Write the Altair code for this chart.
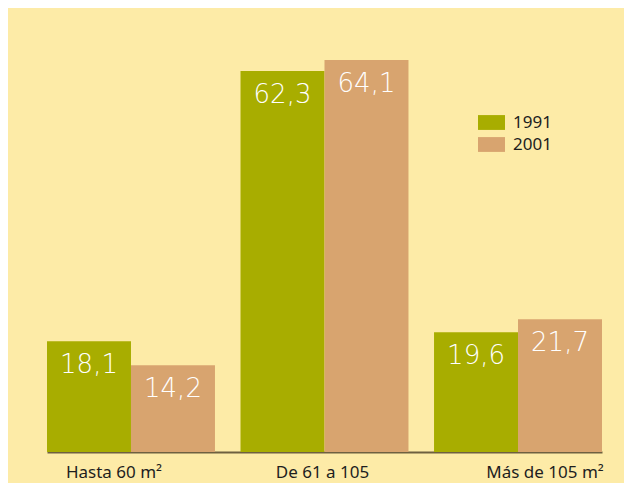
import altair as alt
import pandas as pd

categories = ["Hasta 60 m²", "De 61 a 105", "Más de 105 m²"]
years = ["1991", "2001"]
values_1991 = [18.1, 62.3, 19.6]
values_2001 = [14.2, 64.1, 21.7]
colors = ["#a8ad00", "#d8a46f"]

rows = []
for cat, v in zip(categories, values_1991):
    rows.append({"cat": cat, "year": "1991", "value": v})
for cat, v in zip(categories, values_2001):
    rows.append({"cat": cat, "year": "2001", "value": v})
df = pd.DataFrame(rows)
df["label"] = df["value"].map(lambda v: f"{v:.1f}".replace(".", ","))

label_offset = alt.expr(
    "datum.value == 'Hasta 60 m²' ? -17 : (datum.value == 'Más de 105 m²' ? 27 : -2)"
)

base = alt.Chart(df).encode(
    x=alt.X(
        "cat:N",
        sort=categories,
        scale=alt.Scale(paddingInner=0.132, paddingOuter=0),
        axis=alt.Axis(
            title=None,
            ticks=False,
            labelAngle=0,
            domainColor="#6e6040",
            domainWidth=2,
            labelFont="Noto Sans",
            labelFontSize=17,
            labelColor="#1e1e1e",
            labelPadding=12,
            labelOffset=label_offset,
        ),
    ),
    xOffset=alt.XOffset("year:N", sort=years, scale=alt.Scale(paddingInner=0, paddingOuter=0)),
    y=alt.Y("value:Q", scale=alt.Scale(domain=[0, 70]), axis=None),
)

bars = base.mark_bar().encode(
    color=alt.Color(
        "year:N",
        scale=alt.Scale(domain=years, range=colors),
        legend=alt.Legend(
            title=None,
            orient="none",
            legendX=436,
            legendY=90,
            symbolType="M-2,-1.1L2,-1.1L2,1.1L-2,1.1Z",
            symbolSize=182,
            symbolStrokeWidth=0,
            symbolOpacity=1,
            labelFont="Noto Sans",
            labelFontSize=17,
            labelColor="#1e1e1e",
            labelOffset=13,
            rowPadding=4,
            padding=0,
        ),
    )
)

texts = base.mark_text(
    baseline="top",
    dy=11,
    color="white",
    font="DejaVu Sans",
    fontWeight=300,
    fontSize=26,
).encode(text="label:N")

chart = (
    alt.layer(bars, texts)
    .properties(
        width=555,
        height=428,
        background="#fdeba7",
        padding={"left": 39, "top": 16, "right": 22, "bottom": 31},
        autosize=alt.AutoSizeParams(type="none"),
    )
    .configure_view(strokeWidth=0)
)

chart.save("out.html", embed_options={"renderer": "svg", "actions": False})
